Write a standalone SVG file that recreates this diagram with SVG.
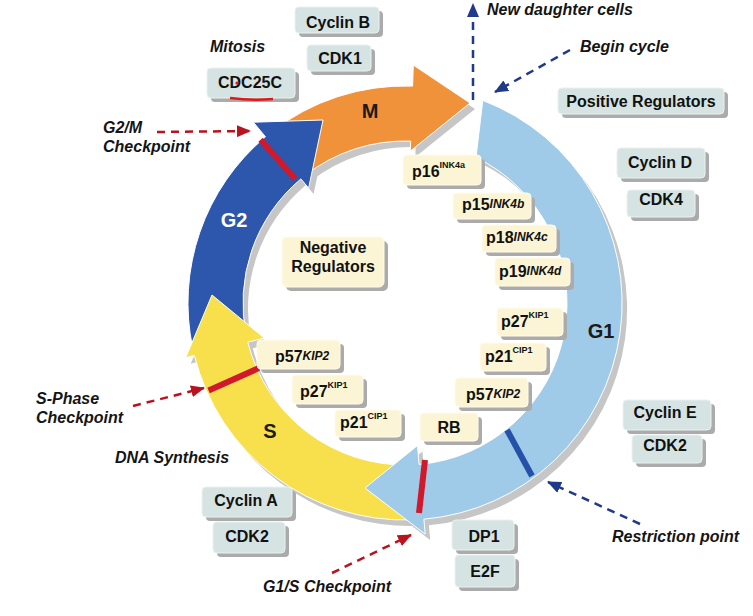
<svg xmlns="http://www.w3.org/2000/svg" xmlns:xlink="http://www.w3.org/1999/xlink" width="753" height="616" viewBox="0 0 753 616">
<style>
.bt{font-family:"Liberation Sans",Arial,sans-serif;font-weight:bold;font-size:16px;fill:#111}
.it{font-family:"Liberation Sans",Arial,sans-serif;font-weight:bold;font-style:italic;font-size:16px;fill:#151515}
.ph{font-family:"Liberation Sans",Arial,sans-serif;font-weight:bold;font-size:20px;fill:#1a1a1a}
.pos{fill:#d5e4e3;stroke:#e9f1f0;stroke-width:1}
.neg{fill:#fbf5d5;stroke:#fffbe9;stroke-width:1}
.sh{fill:#ababab}
.sup{font-size:9px}
.sui{font-size:12px;font-style:italic}
.nav{fill:none;stroke:#1f3a8c;stroke-width:2.5;stroke-dasharray:8 6}
.red{fill:none;stroke:#b8131f;stroke-width:2.5;stroke-dasharray:8 6}
.bar{stroke-width:6;fill:none}
</style>
<defs>
<marker id="an" markerUnits="userSpaceOnUse" markerWidth="14" markerHeight="12" refX="13" refY="6" orient="auto"><path d="M0,0 L14,6 L0,12 Z" fill="#1f3a8c"/></marker>
<marker id="ar" markerUnits="userSpaceOnUse" markerWidth="14" markerHeight="12" refX="13" refY="6" orient="auto"><path d="M0,0 L14,6 L0,12 Z" fill="#b8131f"/></marker>
<path id="pM" d="M271.4,132 A217,217 0 0 1 412.6,86.1 L413.3,65.1 L470,103 L410.3,151.1 L410.7,141.1 A162,162 0 0 0 305.3,175.3 Z"/>
<path id="pG2" d="M192.7,348.1 A217,217 0 0 1 265.5,136.8 L253.3,122.2 L323,120 L308.6,188.1 L300.9,178.9 A162,162 0 0 0 246.5,336.7 Z"/>
<path id="pS" d="M412.6,519.9 A217,217 0 0 1 194.4,355.5 L185.7,357.7 L212,295 L264.3,338.1 L247.8,342.2 A162,162 0 0 0 410.7,464.9 Z"/>
<path id="pG1" d="M482.8,100.4 A217,217 0 0 1 423.9,519.2 L425.2,534.1 L365,488 L417.5,445.5 L419.1,464.4 A162,162 0 0 0 476,157.4 Z"/>
</defs>
<rect width="753" height="616" fill="#ffffff"/>

<g id="ring-shadow" fill="#c6c6c6" transform="translate(5,6)">
<use xlink:href="#pM"/><use xlink:href="#pG2"/><use xlink:href="#pS"/><use xlink:href="#pG1"/>
</g>
<g id="phase-M"><use xlink:href="#pM" fill="#f0923a" stroke="#fff" stroke-width="1"/><text class="ph" x="370" y="118" text-anchor="middle">M</text></g>
<g id="phase-G2"><use xlink:href="#pG2" fill="#2d56ad" stroke="#fff" stroke-width="1"/><text class="ph" x="234" y="227" text-anchor="middle" fill="#ffffff" style="fill:#fff">G2</text></g>
<g id="phase-S"><use xlink:href="#pS" fill="#f8e04c" stroke="#fff" stroke-width="1"/><text class="ph" x="270" y="438" text-anchor="middle">S</text></g>
<g id="phase-G1"><use xlink:href="#pG1" fill="#9fcbe8" stroke="#fff" stroke-width="1"/><text class="ph" x="601" y="338" text-anchor="middle">G1</text></g>

<g id="checkpoint-bars">
<line class="bar" x1="260.6" y1="139.7" x2="295" y2="178.7" stroke="#d0192a"/>
<line class="bar" x1="208.6" y1="390.4" x2="258.8" y2="368.1" stroke="#d0192a"/>
<line class="bar" x1="425" y1="460" x2="419" y2="513" stroke="#d0192a"/>
<line class="bar" x1="507" y1="430" x2="532" y2="476" stroke="#2552a8"/>
</g>

<g id="connectors">
<line class="nav" x1="473" y1="100" x2="473" y2="4" marker-end="url(#an)"/>
<line class="nav" x1="570" y1="50" x2="495" y2="92" marker-end="url(#an)"/>
<line class="nav" x1="640" y1="524" x2="548" y2="482" marker-end="url(#an)"/>
<line class="red" x1="157" y1="132" x2="250" y2="131" marker-end="url(#ar)"/>
<line class="red" x1="133" y1="406" x2="204" y2="388" marker-end="url(#ar)"/>
<line class="red" x1="332" y1="573" x2="411" y2="535" marker-end="url(#ar)"/>
</g>

<g id="labels">
<text class="it" x="487" y="15">New daughter cells</text>
<text class="it" x="580" y="52">Begin cycle</text>
<text class="it" x="210" y="52">Mitosis</text>
<text class="it" x="103" y="133">G2/M</text>
<text class="it" x="103" y="152">Checkpoint</text>
<text class="it" x="36" y="404">S-Phase</text>
<text class="it" x="36" y="423">Checkpoint</text>
<text class="it" x="115" y="463">DNA Synthesis</text>
<text class="it" x="263" y="592">G1/S Checkpoint</text>
<text class="it" x="612" y="542">Restriction point</text>
</g>

<g id="box-cyclinB"><rect class="sh" x="299" y="11" width="84" height="26" rx="4"/><rect class="pos" x="295" y="7" width="84" height="26" rx="4"/><text class="bt" x="338" y="28" text-anchor="middle">Cyclin B</text></g>
<g id="box-cdk1"><rect class="sh" x="311" y="49" width="64" height="26" rx="4"/><rect class="pos" x="307" y="45" width="64" height="26" rx="4"/><text class="bt" x="340" y="64" text-anchor="middle">CDK1</text></g>
<g id="box-cdc25c"><rect class="sh" x="211" y="72" width="88" height="30" rx="4"/><rect class="pos" x="207" y="68" width="88" height="30" rx="4"/><text class="bt" x="250" y="88" text-anchor="middle">CDC25C</text>
<path d="M230,98 Q252,101 273,99" stroke="#e01818" stroke-width="2.5" fill="none"/><circle cx="237" cy="83" r="1.6" fill="#e01818"/></g>
<g id="box-positive"><rect class="sh" x="562" y="92" width="166" height="26" rx="4"/><rect class="pos" x="558" y="88" width="166" height="26" rx="4"/><text class="bt" x="641" y="107" text-anchor="middle">Positive Regulators</text></g>
<g id="box-cyclinD"><rect class="sh" x="621" y="152" width="88" height="30" rx="4"/><rect class="pos" x="617" y="148" width="88" height="30" rx="4"/><text class="bt" x="660" y="168" text-anchor="middle">Cyclin D</text></g>
<g id="box-cdk4"><rect class="sh" x="631" y="194" width="68" height="27" rx="4"/><rect class="pos" x="627" y="190" width="68" height="27" rx="4"/><text class="bt" x="661" y="205" text-anchor="middle">CDK4</text></g>
<g id="box-cyclinE"><rect class="sh" x="627" y="404" width="88" height="30" rx="4"/><rect class="pos" x="623" y="400" width="88" height="30" rx="4"/><text class="bt" x="665" y="418" text-anchor="middle">Cyclin E</text></g>
<g id="box-cdk2-right"><rect class="sh" x="636" y="439" width="70" height="28" rx="4"/><rect class="pos" x="632" y="435" width="70" height="28" rx="4"/><text class="bt" x="665" y="451" text-anchor="middle">CDK2</text></g>
<g id="box-cyclinA"><rect class="sh" x="206" y="491" width="90" height="30" rx="4"/><rect class="pos" x="202" y="487" width="90" height="30" rx="4"/><text class="bt" x="246" y="506" text-anchor="middle">Cyclin A</text></g>
<g id="box-cdk2-left"><rect class="sh" x="217" y="526" width="72" height="31" rx="4"/><rect class="pos" x="213" y="522" width="72" height="31" rx="4"/><text class="bt" x="247" y="542" text-anchor="middle">CDK2</text></g>
<g id="box-dp1"><rect class="sh" x="456" y="524" width="62" height="30" rx="4"/><rect class="pos" x="452" y="520" width="62" height="30" rx="4"/><text class="bt" x="484" y="542" text-anchor="middle">DP1</text></g>
<g id="box-e2f"><rect class="sh" x="459" y="559" width="60" height="32" rx="4"/><rect class="pos" x="455" y="555" width="60" height="32" rx="4"/><text class="bt" x="485" y="577" text-anchor="middle">E2F</text></g>

<g id="box-negative"><rect class="sh" x="286" y="241" width="102" height="50" rx="5"/><rect class="neg" x="282" y="237" width="102" height="50" rx="5"/><text class="bt" x="333" y="253" text-anchor="middle">Negative</text><text class="bt" x="333" y="272" text-anchor="middle">Regulators</text></g>
<g id="box-p16"><rect class="sh" x="407" y="159" width="78" height="30" rx="4"/><rect class="neg" x="403" y="155" width="78" height="30" rx="4"/><text class="bt" x="412" y="177">p16<tspan class="sup" dy="-9">INK4a</tspan></text></g>
<g id="box-p15"><rect class="sh" x="457" y="197" width="78" height="26" rx="4"/><rect class="neg" x="453" y="193" width="78" height="26" rx="4"/><text class="bt" x="462" y="210">p15<tspan class="sui" dy="-2">INK4b</tspan></text></g>
<g id="box-p18"><rect class="sh" x="486" y="229" width="74" height="27" rx="4"/><rect class="neg" x="482" y="225" width="74" height="27" rx="4"/><text class="bt" x="486" y="243">p18<tspan class="sui" dy="-2">INK4c</tspan></text></g>
<g id="box-p19"><rect class="sh" x="499" y="262" width="75" height="28" rx="4"/><rect class="neg" x="495" y="258" width="75" height="28" rx="4"/><text class="bt" x="499" y="277">p19<tspan class="sui" dy="-2">INK4d</tspan></text></g>
<g id="box-p27-right"><rect class="sh" x="501" y="312" width="66" height="28" rx="4"/><rect class="neg" x="497" y="308" width="66" height="28" rx="4"/><text class="bt" x="501" y="327">p27<tspan class="sup" dy="-9">KIP1</tspan></text></g>
<g id="box-p21-right"><rect class="sh" x="484" y="347" width="66" height="28" rx="4"/><rect class="neg" x="480" y="343" width="66" height="28" rx="4"/><text class="bt" x="485" y="362">p21<tspan class="sup" dy="-9">CIP1</tspan></text></g>
<g id="box-p57-right"><rect class="sh" x="459" y="382" width="73" height="29" rx="4"/><rect class="neg" x="455" y="378" width="73" height="29" rx="4"/><text class="bt" x="466" y="400">p57<tspan class="sui" dy="-2">KIP2</tspan></text></g>
<g id="box-rb"><rect class="sh" x="424" y="417" width="58" height="28" rx="4"/><rect class="neg" x="420" y="413" width="58" height="28" rx="4"/><text class="bt" x="449" y="433" text-anchor="middle">RB</text></g>
<g id="box-p57-left"><rect class="sh" x="261" y="344" width="83" height="29" rx="4"/><rect class="neg" x="257" y="340" width="83" height="29" rx="4"/><text class="bt" x="275" y="362">p57<tspan class="sui" dy="-2">KIP2</tspan></text></g>
<g id="box-p27-left"><rect class="sh" x="296" y="379" width="71" height="29" rx="4"/><rect class="neg" x="292" y="375" width="71" height="29" rx="4"/><text class="bt" x="300" y="397">p27<tspan class="sup" dy="-9">KIP1</tspan></text></g>
<g id="box-p21-left"><rect class="sh" x="339" y="414" width="66" height="27" rx="4"/><rect class="neg" x="335" y="410" width="66" height="27" rx="4"/><text class="bt" x="340" y="428">p21<tspan class="sup" dy="-9">CIP1</tspan></text></g>
</svg>
